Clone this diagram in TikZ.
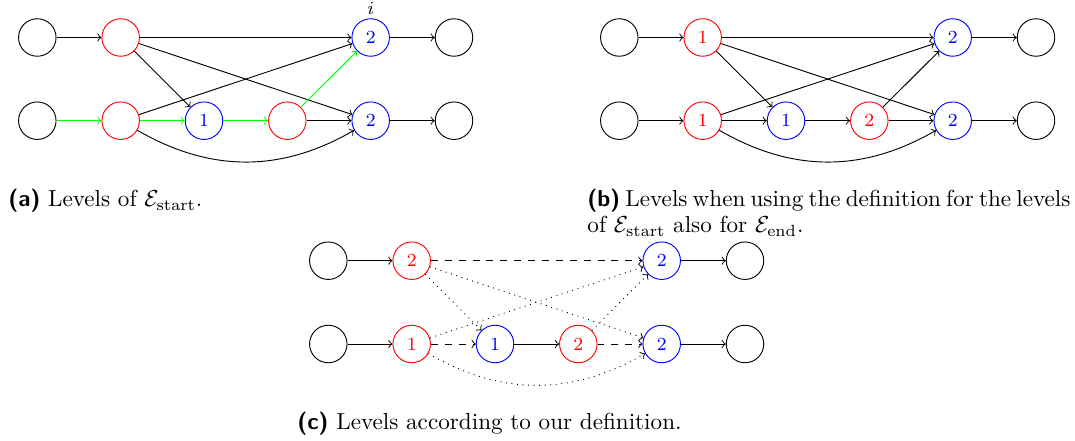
\documentclass[tikz,border=0pt]{standalone}
\begin{document}
\begin{tikzpicture}[x=0.432pt,y=-0.432pt, >=to,
  vtx/.style={circle,draw,minimum size=16.2pt,inner sep=0pt,font=\footnotesize},
  rv/.style={vtx,red},
  bv/.style={vtx,blue},
  gr/.style={->,green},
  captxt/.style={anchor=base west,inner sep=0pt,font=\normalsize}]
\useasboundingbox (0,0) rectangle (1075,441);

% ---------- (a) ----------
\node[vtx] (a10) at (37.3,37.5) {};
\node[rv]  (a11) at (120.7,37.5) {};
\node[bv]  (a14) at (370.7,37.5) {2};
\node[vtx] (a15) at (454,37.5) {};
\node[font=\footnotesize,inner sep=0pt] (ai) at (370.7,8) {$i$};
\node[vtx] (a20) at (37.3,120.7) {};
\node[rv]  (a21) at (120.7,120.7) {};
\node[bv]  (a22) at (204,120.7) {1};
\node[rv]  (a23) at (287.3,120.7) {};
\node[bv]  (a24) at (370.7,120.7) {2};
\node[vtx] (a25) at (454,120.7) {};

\draw[->] (a10) -- (a11);
\draw[->] (a11) -- (a14);
\draw[->] (a11) -- (a22);
\draw[->] (a11) -- (a24);
\draw[->] (a14) -- (a15);
\draw[gr] (a20) -- (a21);
\draw[gr] (a21) -- (a22);
\draw[gr] (a22) -- (a23);
\draw[gr] (a23) -- (a14);
\draw[->] (a23) -- (a24);
\draw[->] (a21) -- (a14);
\draw[->] (a21) to[bend right=30] (a24);
\draw[->] (a24) -- (a25);

% ---------- (b) ----------
\node[vtx] (b10) at (619.3,37.5) {};
\node[rv]  (b11) at (702.7,37.5) {1};
\node[bv]  (b14) at (952.7,37.5) {2};
\node[vtx] (b15) at (1036,37.5) {};
\node[vtx] (b20) at (619.3,120.7) {};
\node[rv]  (b21) at (702.7,120.7) {1};
\node[bv]  (b22) at (786,120.7) {1};
\node[rv]  (b23) at (869.3,120.7) {2};
\node[bv]  (b24) at (952.7,120.7) {2};
\node[vtx] (b25) at (1036,120.7) {};

\draw[->] (b10) -- (b11);
\draw[->] (b11) -- (b14);
\draw[->] (b11) -- (b22);
\draw[->] (b11) -- (b24);
\draw[->] (b14) -- (b15);
\draw[->] (b20) -- (b21);
\draw[->] (b21) -- (b22);
\draw[->] (b22) -- (b23);
\draw[->] (b23) -- (b14);
\draw[->] (b23) -- (b24);
\draw[->] (b21) -- (b14);
\draw[->] (b21) to[bend right=30] (b24);
\draw[->] (b24) -- (b25);

% ---------- (c) ----------
\node[vtx] (c10) at (328.3,260.7) {};
\node[rv]  (c11) at (411.7,260.7) {2};
\node[bv]  (c14) at (661.7,260.7) {2};
\node[vtx] (c15) at (745,260.7) {};
\node[vtx] (c20) at (328.3,344) {};
\node[rv]  (c21) at (411.7,344) {1};
\node[bv]  (c22) at (495,344) {1};
\node[rv]  (c23) at (578.3,344) {2};
\node[bv]  (c24) at (661.7,344) {2};
\node[vtx] (c25) at (745,344) {};

\draw[->] (c10) -- (c11);
\draw[->,dashed] (c11) -- (c14);
\draw[->,dotted] (c11) -- (c22);
\draw[->,dotted] (c11) -- (c24);
\draw[->] (c14) -- (c15);
\draw[->] (c20) -- (c21);
\draw[->,dashed] (c21) -- (c22);
\draw[->] (c22) -- (c23);
\draw[->,dotted] (c23) -- (c14);
\draw[->,dashed] (c23) -- (c24);
\draw[->,dotted] (c21) -- (c14);
\draw[->,dotted] (c21) to[bend right=30] (c24);
\draw[->] (c24) -- (c25);

% ---------- captions ----------
\node[captxt] (capa) at (8,207) {\textsf{\textbf{(a)}} Levels of $\mathcal{E}_{\mathrm{start}}$.};
\node[captxt] (capb1) at (587,207) {\makebox[206.5pt][s]{\textsf{\textbf{(b)}} Levels when using the definition for the levels}};
\node[captxt] (capb2) at (587,233) {of $\mathcal{E}_{\mathrm{start}}$\ also for $\mathcal{E}_{\mathrm{end}}$.};
\node[captxt] (capc) at (297,429) {\textsf{\textbf{(c)}} Levels according to our definition.};
\end{tikzpicture}
\end{document}
